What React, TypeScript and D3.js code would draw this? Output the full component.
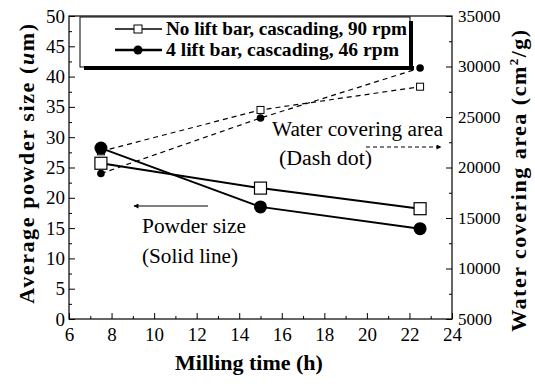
import React, { useRef, useEffect } from "react";
import * as d3 from "d3";

// milling time (h)
const millingTime = [7.5, 15, 22.5];

// powder size (um), solid lines
const sizeNoLift = [25.7, 21.6, 18.2];
const sizeFourLift = [28.2, 18.5, 14.9];

// water covering area (cm2/g), dashed lines
const areaNoLift = [21600, 25700, 28000];
const areaFourLift = [19400, 24900, 29850];

const legendLabels = ["No lift bar, cascading, 90 rpm", "4 lift bar, cascading, 46 rpm"];

const xTicks = [6, 8, 10, 12, 14, 16, 18, 20, 22, 24];
const leftTicks = [0, 5, 10, 15, 20, 25, 30, 35, 40, 45, 50];
const rightTicks = [5000, 10000, 15000, 20000, 25000, 30000, 35000];

const SERIF = "Liberation Serif, DejaVu Serif, Times, serif";

const App = () => {
  const svgRef = useRef<SVGSVGElement>(null);

  useEffect(() => {
    document.body.style.margin = "0";
    const root = d3.select(svgRef.current).style("font-family", SERIF);
    root.selectAll("*").remove();

    const width = 535;
    const height = 384;
    const margin = { top: 16, right: 83, bottom: 65, left: 69 };
    const w = width - margin.left - margin.right;
    const h = height - margin.top - margin.bottom;

    const defs = root.append("defs");
    defs
      .append("marker")
      .attr("id", "arrow")
      .attr("viewBox", "0 0 10 10")
      .attr("refX", 9)
      .attr("refY", 5)
      .attr("markerWidth", 7)
      .attr("markerHeight", 5)
      .attr("orient", "auto")
      .append("path")
      .attr("d", "M0,0 L10,5 L0,10 Z")
      .attr("fill", "black");

    const svg = root.append("g").attr("transform", `translate(${margin.left},${margin.top})`);

    const x = d3.scaleLinear().domain([6, 24]).range([0, w]);
    const yL = d3.scaleLinear().domain([0, 50]).range([h, 0]);
    const yR = d3.scaleLinear().domain([5000, 35000]).range([h, 0]);

    // frame
    svg
      .append("rect")
      .attr("width", w)
      .attr("height", h)
      .attr("fill", "none")
      .attr("stroke", "black")
      .attr("stroke-width", 1.2);

    // axes, ticks pointing inward
    const styleAxis = (g: any, size: number) => {
      g.attr("font-family", null);
      g.select(".domain").remove();
      g.selectAll("text").style("font-family", SERIF).attr("font-size", size).attr("fill", "black");
      g.selectAll("line").attr("stroke", "black");
    };

    svg
      .append("g")
      .attr("transform", `translate(0,${h})`)
      .call(d3.axisBottom(x).tickValues(xTicks).tickFormat(d3.format("d")).tickSize(-6).tickPadding(9))
      .call((g: any) => styleAxis(g, 19));
    svg
      .append("g")
      .attr("transform", `translate(0,${h})`)
      .call(d3.axisBottom(x).tickValues(d3.range(7, 24, 2)).tickFormat(() => "").tickSize(-3))
      .call((g: any) => styleAxis(g, 19));

    svg
      .append("g")
      .call(d3.axisLeft(yL).tickValues(leftTicks).tickSize(-6).tickPadding(4))
      .call((g: any) => styleAxis(g, 19));
    svg
      .append("g")
      .call(d3.axisLeft(yL).tickValues(d3.range(2.5, 50, 5)).tickFormat(() => "").tickSize(-3))
      .call((g: any) => styleAxis(g, 19));

    svg
      .append("g")
      .attr("transform", `translate(${w},0)`)
      .call(d3.axisRight(yR).tickValues(rightTicks).tickFormat(d3.format("d")).tickSize(-6).tickPadding(6))
      .call((g: any) => styleAxis(g, 17));
    svg
      .append("g")
      .attr("transform", `translate(${w},0)`)
      .call(d3.axisRight(yR).tickValues(d3.range(7500, 35000, 5000)).tickFormat(() => "").tickSize(-3))
      .call((g: any) => styleAxis(g, 17));

    // dashed lines: water covering area
    const areaLine = d3
      .line<number>()
      .x((d, i) => x(millingTime[i]))
      .y((d) => yR(d));
    [areaNoLift, areaFourLift].forEach((s) => {
      svg
        .append("path")
        .attr("d", areaLine(s))
        .attr("fill", "none")
        .attr("stroke", "black")
        .attr("stroke-width", 1.2)
        .attr("stroke-dasharray", "5,4");
    });
    svg
      .selectAll(".sq-small")
      .data(areaNoLift)
      .enter()
      .append("rect")
      .attr("x", (d, i) => x(millingTime[i]) - 3.5)
      .attr("y", (d) => yR(d) - 3.5)
      .attr("width", 7)
      .attr("height", 7)
      .attr("fill", "white")
      .attr("stroke", "black");
    svg
      .selectAll(".dot-small")
      .data(areaFourLift)
      .enter()
      .append("circle")
      .attr("cx", (d, i) => x(millingTime[i]))
      .attr("cy", (d) => yR(d))
      .attr("r", 3.8)
      .attr("fill", "black");

    // solid lines: powder size
    const sizeLine = d3
      .line<number>()
      .x((d, i) => x(millingTime[i]))
      .y((d) => yL(d));
    [sizeNoLift, sizeFourLift].forEach((s) => {
      svg
        .append("path")
        .attr("d", sizeLine(s))
        .attr("fill", "none")
        .attr("stroke", "black")
        .attr("stroke-width", 2);
    });
    svg
      .selectAll(".sq-big")
      .data(sizeNoLift)
      .enter()
      .append("rect")
      .attr("x", (d, i) => x(millingTime[i]) - 6)
      .attr("y", (d) => yL(d) - 6)
      .attr("width", 12)
      .attr("height", 12)
      .attr("fill", "white")
      .attr("stroke", "black")
      .attr("stroke-width", 1.2);
    svg
      .selectAll(".dot-big")
      .data(sizeFourLift)
      .enter()
      .append("circle")
      .attr("cx", (d, i) => x(millingTime[i]))
      .attr("cy", (d) => yL(d))
      .attr("r", 6.5)
      .attr("fill", "black");

    // annotations
    const note = (tx: number, ty: number, len: number, t: string) =>
      root
        .append("text")
        .attr("x", tx)
        .attr("y", ty)
        .attr("font-size", 20)
        .attr("textLength", len)
        .attr("lengthAdjust", "spacingAndGlyphs")
        .text(t);
    note(272, 136, 171, "Water covering area");
    note(279, 165, 93, "(Dash dot)");
    note(142, 233, 104, "Powder size");
    note(142, 263, 96, "(Solid line)");
    root
      .append("line")
      .attr("x1", 366)
      .attr("y1", 147)
      .attr("x2", 441)
      .attr("y2", 147)
      .attr("stroke", "black")
      .attr("stroke-dasharray", "4,3")
      .attr("marker-end", "url(#arrow)");
    root
      .append("line")
      .attr("x1", 208)
      .attr("y1", 206)
      .attr("x2", 134)
      .attr("y2", 206)
      .attr("stroke", "black")
      .attr("marker-end", "url(#arrow)");

    // legend box with heavy shadow
    const lg = root.append("g");
    lg.append("rect")
      .attr("x", 80)
      .attr("y", 17)
      .attr("width", 330)
      .attr("height", 50)
      .attr("fill", "white")
      .attr("stroke", "black")
      .attr("stroke-width", 1);
    lg.append("rect").attr("x", 84).attr("y", 66).attr("width", 330).attr("height", 4).attr("fill", "black");
    lg.append("rect").attr("x", 409).attr("y", 21).attr("width", 4).attr("height", 49).attr("fill", "black");

    const legendLens = [241, 233];
    legendLabels.forEach((label, i) => {
      const ly = 29 + i * 21;
      lg.append("line")
        .attr("x1", 115)
        .attr("x2", 162)
        .attr("y1", ly)
        .attr("y2", ly)
        .attr("stroke", "black")
        .attr("stroke-width", i === 0 ? 1.6 : 2.4);
      if (i === 0) {
        lg.append("rect")
          .attr("x", 134)
          .attr("y", ly - 4)
          .attr("width", 8)
          .attr("height", 8)
          .attr("fill", "white")
          .attr("stroke", "black");
      } else {
        lg.append("circle").attr("cx", 138).attr("cy", ly).attr("r", 4.5).attr("fill", "black");
      }
      lg.append("text")
        .attr("x", 166)
        .attr("y", ly + 6)
        .attr("font-weight", "bold")
        .attr("font-size", 18)
        .attr("textLength", legendLens[i])
        .attr("lengthAdjust", "spacingAndGlyphs")
        .text(label);
    });

    // axis titles
    root
      .append("text")
      .attr("x", 249)
      .attr("y", 370)
      .attr("text-anchor", "middle")
      .attr("font-weight", "bold")
      .attr("font-size", 22)
      .text("Milling time (h)");

    const leftTitle = root
      .append("text")
      .attr("transform", "translate(34,163) rotate(-90)")
      .attr("text-anchor", "middle")
      .attr("font-weight", "bold")
      .attr("font-size", 22)
      .attr("letter-spacing", 1.6);
    leftTitle.append("tspan").text("Average powder size (");
    leftTitle.append("tspan").attr("font-style", "italic").text("u");
    leftTitle.append("tspan").text("m)");

    const rightTitle = root
      .append("text")
      .attr("transform", "translate(526,180) rotate(-90)")
      .attr("text-anchor", "middle")
      .attr("font-weight", "bold")
      .attr("font-size", 22)
      .attr("letter-spacing", 1.5);
    rightTitle.append("tspan").text("Water covering area (cm");
    rightTitle.append("tspan").attr("font-size", 13).attr("dy", -8).text("2");
    rightTitle.append("tspan").attr("dy", 8).text("/g)");
  }, []);

  return <svg ref={svgRef} width={535} height={384} style={{ display: "block", background: "white" }} />;
};

export default App;
